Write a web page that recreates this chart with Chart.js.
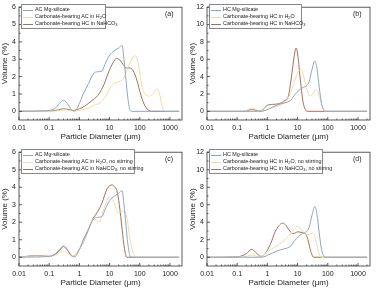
<!DOCTYPE html>
<html>
<head>
<meta charset="utf-8">
<script src="https://cdn.jsdelivr.net/npm/chart.js@4.4.1/dist/chart.umd.min.js"></script>
<style>
  html,body{margin:0;padding:0;background:#fff;}
  #wrap{position:relative;width:376px;height:291px;overflow:hidden;font-family:"Liberation Sans",Arial,sans-serif;}
  .panel{position:absolute;width:188px;}
  .panel canvas{position:absolute;left:0;top:0;}
  .lg{position:absolute;border:0.6px solid #888;background:#fff;padding:1px 2px 1px 1px;font-size:5.4px;color:#222;line-height:7px;white-space:nowrap;}
  .lg div{position:relative;padding-left:12px;height:7px;}
  .lg i{position:absolute;left:0;top:3.5px;width:10px;height:0;border-top:1px solid;}
  .lg sub{font-size:4px;line-height:0;vertical-align:-1px;}
  .tag{position:absolute;font-size:7px;color:#222;}
</style>
</head>
<body>
<div id="wrap">
  <div class="panel" id="pa" style="left:0;top:0;height:145px"><canvas id="ca" width="188" height="145"></canvas></div>
  <div class="panel" id="pb" style="left:188px;top:0;height:145px"><canvas id="cb" width="188" height="145"></canvas></div>
  <div class="panel" id="pc" style="left:0;top:145px;height:146px"><canvas id="cc" width="188" height="146"></canvas></div>
  <div class="panel" id="pd" style="left:188px;top:145px;height:146px"><canvas id="cd" width="188" height="146"></canvas></div>
</div>
<script>
// x ticks (µm) and y ticks
const X_TICKS = [0.01,0.1,1,10,100,1000];
const Y_TICKS_AC = [0,1,2,3,4,5,6];
const Y_TICKS_HC = [0,2,4,6,8,10,12];

// AC Mg-silicate (panels a, c)
const acMgX = [0.01,0.05,0.1,0.15,0.22,0.3,0.4,0.55,0.7,1,1.3,2,3,4,5.6,7,9,12,16,20,26,30,35,40,47,55,2000];
const acMgY = [0,0.02,0.05,0.15,0.45,0.64,0.45,0.1,0.02,0.45,0.95,1.6,2.2,2.28,2.32,2.7,3.1,3.38,3.55,3.65,3.8,3.0,1.8,0.8,0.1,0,0];
// HC Mg-silicate (panels b, d)
const hcMgX = [0.01,0.5,0.7,1,1.5,2.2,3,4.5,6,8,11,15,19,24,30,37,44,52,62,75,85,2000];
const hcMgY = [0,0,0.02,0.2,0.5,0.75,0.9,1.05,1.3,1.9,2.4,2.75,2.9,3.4,4.8,5.8,4.9,2.8,0.9,0.1,0,0];

// (a)
const aH2OX = [0.01,0.1,0.2,0.3,0.45,0.6,1,2,3,5,7,10,14,20,28,40,55,70,85,100,120,150,210,280,380,450,550,660,2000];
const aH2OY = [0,0,0.03,0.08,0.05,0.01,0.05,0.2,0.35,0.5,0.8,1.3,1.6,1.7,1.85,2.5,3.05,3.2,2.9,2.2,1.4,1.0,0.88,1.05,1.3,1.0,0.3,0,0];
const aNaX = [0.01,0.1,0.2,0.3,0.45,0.6,1,1.5,2.5,4,6,9,13,17,22,28,35,45,60,80,110,150,200,250,2000];
const aNaY = [0,0.02,0.08,0.15,0.1,0.05,0.15,0.3,0.6,0.9,1.4,2.2,2.8,3.05,2.95,2.7,2.5,2.5,2.35,1.8,0.9,0.3,0.05,0,0];

// (b)
const bH2OX = [0.01,0.15,0.22,0.3,0.4,0.55,0.8,1.2,2,3,4.5,6,8,10,12.5,15,19,24,28,34,40,48,58,70,80,2000];
const bH2OY = [0,0,0.15,0.4,0.25,0.03,0.1,0.3,0.55,0.8,1.3,2.2,3.5,4.4,4.8,4.4,2.8,1.9,1.8,2.2,2.5,2.2,1.2,0.3,0,0];
const bNaX = [0.01,0.15,0.3,0.45,0.6,0.8,1,1.5,2.2,3,4,5,6,7,8,9,10,11,12,13.5,15.3,17,19.5,22,2000];
const bNaY = [0,0,0.2,0.1,0.05,0.4,0.7,0.8,0.85,1.0,1.3,1.8,3.5,5.3,6.7,7.3,6.6,5.4,4.0,2.4,1.0,0.4,0.05,0,0];

// (c)
const cH2OX = [0.01,0.04,0.1,0.2,0.3,0.4,0.6,1,1.6,2.3,3,4.5,6,8,9.5,12,15,19,24,31,38,48,60,72,2000];
const cH2OY = [0,0.08,0.03,0.2,0.35,0.25,0.05,0.45,1.2,1.9,2.2,2.0,2.6,3.2,3.45,3.35,3.0,2.55,2.6,2.65,2.2,1.0,0.25,0,0];
const cNaX = [0.01,0.04,0.1,0.2,0.3,0.4,0.6,1,1.6,2.6,4,5.6,8.2,12,15,17.5,21,26,31,37,2000];
const cNaY = [0,0.1,0.05,0.3,0.62,0.4,0.05,0.45,1.15,2.1,2.6,3.1,3.9,4.13,4.0,3.8,3.0,1.6,0.5,0,0];

// (d)
const dH2OX = [0.01,0.1,0.2,0.3,0.4,0.6,1,1.6,2.5,3.5,5,6.5,8.5,10,12,15,19,24,31,38,46,55,62,2000];
const dH2OY = [0,0.02,0.1,0.25,0.15,0.05,0.6,1.1,1.5,1.9,2.4,2.9,3.35,3.5,3.35,3.0,2.6,2.6,2.75,2.3,1.0,0.2,0,0];
const dNaX = [0.01,0.1,0.2,0.3,0.4,0.6,0.8,1,1.3,1.8,2.4,3.2,4.2,5.5,7,8.5,10,13,16,19.5,22,25,29,34,2000];
const dNaY = [0,0.05,0.4,0.9,0.6,0.1,0.3,0.8,1.6,2.9,3.6,3.9,3.6,3.0,2.7,2.8,2.9,2.85,2.75,2.5,2.0,1.2,0.4,0,0];

const C_MG = '#8ca6c0', C_H2O = '#efdca8', C_NA = '#a96e55';
const FONT = '"Liberation Sans", Arial, sans-serif';
const pts = (xs, ys) => xs.map((x,i)=>({x, y:ys[i]}));

const FrameTicks = {
  id:'frameTicks',
  afterDraw(chart){
    const {left,right,top,bottom} = chart.chartArea;
    const ctx = chart.ctx, xs = chart.scales.x, ys = chart.scales.y;
    ctx.save();
    ctx.strokeStyle = '#333'; ctx.lineWidth = 0.8;
    ctx.strokeRect(left, top, right-left, bottom-top);
    ctx.beginPath();
    for(let d=-2; d<=3; d++){
      for(let k=1; k<=9; k++){
        const v = k*Math.pow(10,d); if(v>xs.max) break;
        const px = xs.getPixelForValue(v), len = k===1 ? 3 : 1.5;
        ctx.moveTo(px, bottom); ctx.lineTo(px, bottom-len);
      }
    }
    const yt = chart.options.scales.y.myTicks, step = yt[1]-yt[0];
    yt.forEach(v=>{
      const py = ys.getPixelForValue(v);
      ctx.moveTo(left, py); ctx.lineTo(left+3, py);
      const pm = ys.getPixelForValue(v+step/2);
      if(v+step/2 < ys.max){ ctx.moveTo(left, pm); ctx.lineTo(left+1.5, pm); }
    });
    const pm = ys.getPixelForValue(-step/2);
    ctx.stroke();
    ctx.restore();
  }
};

function makeChart(id, sets, yMin, yMax, yTicks, padTop){
  const ds = sets.map(([xs,ys,col])=>({data:pts(xs,ys), borderColor:col, borderWidth:1, pointRadius:0, cubicInterpolationMode:'monotone', fill:false}));
  return new Chart(document.getElementById(id), {
    type:'line',
    data:{datasets:ds},
    options:{
      responsive:false, animation:false, events:[],
      layout:{padding:{top:padTop, right:6, left:0, bottom:0}},
      plugins:{legend:{display:false}, tooltip:{enabled:false}},
      scales:{
        x:{type:'logarithmic', min:0.01, max:2500,
          grid:{display:false, drawTicks:false}, border:{display:false},
          afterBuildTicks:s=>{ s.ticks = X_TICKS.map(v=>({value:v})); },
          afterFit:s=>{ s.height = 25; },
          ticks:{autoSkip:false, maxRotation:0, padding:4, color:'#222', font:{family:FONT, size:7}, callback:v=>String(v)},
          title:{display:true, text:'Particle Diameter (μm)', color:'#222', font:{family:FONT, size:8}, padding:{top:0, bottom:3}}},
        y:{min:yMin, max:yMax, myTicks:yTicks,
          grid:{display:false, drawTicks:false}, border:{display:false},
          afterBuildTicks:s=>{ s.ticks = yTicks.map(v=>({value:v})); },
          afterFit:s=>{ s.width = 19; },
          ticks:{padding:3, color:'#222', font:{family:FONT, size:7}},
          title:{display:true, text:'Volume (%)', color:'#222', font:{family:FONT, size:8}, padding:{top:0, bottom:0}}}
      }
    },
    plugins:[FrameTicks]
  });
}

function legend(panel, items, tag, width){
  const p = document.getElementById(panel);
  const lg = document.createElement('div');
  lg.className = 'lg'; lg.style.left = '21px'; lg.style.top = '4px'; lg.style.width = width+'px';
  lg.innerHTML = items.map(([c,t])=>`<div><i style="border-color:${c}"></i>${t}</div>`).join('');
  p.appendChild(lg);
  const tg = document.createElement('div');
  tg.className = 'tag'; tg.style.left = '165px'; tg.style.top = '10px'; tg.textContent = tag;
  p.appendChild(tg);
}

makeChart('ca', [[acMgX,acMgY,C_MG],[aH2OX,aH2OY,C_H2O],[aNaX,aNaY,C_NA]], -0.5, 6, Y_TICKS_AC, 4);
makeChart('cb', [[hcMgX,hcMgY,C_MG],[bH2OX,bH2OY,C_H2O],[bNaX,bNaY,C_NA]], -1, 12, Y_TICKS_HC, 4);
makeChart('cc', [[acMgX,acMgY,C_MG],[cH2OX,cH2OY,C_H2O],[cNaX,cNaY,C_NA]], -0.5, 6, Y_TICKS_AC, 3);
makeChart('cd', [[hcMgX,hcMgY,C_MG],[dH2OX,dH2OY,C_H2O],[dNaX,dNaY,C_NA]], -1, 12, Y_TICKS_HC, 3);

legend('pa', [[C_MG,'AC Mg-silicate'],[C_H2O,'Carbonate-bearing AC in H<sub>2</sub>O'],[C_NA,'Carbonate-bearing HC in NaHCO<sub>3</sub>']], '(a)', 80);
legend('pb', [[C_MG,'HC Mg-silicate'],[C_H2O,'Carbonate-bearing HC in H<sub>2</sub>O'],[C_NA,'Carbonate-bearing HC in NaHCO<sub>3</sub>']], '(b)', 88);
legend('pc', [[C_MG,'AC Mg-silicate'],[C_H2O,'Carbonate-bearing AC in H<sub>2</sub>O, no stirring'],[C_NA,'Carbonate-bearing AC in NaHCO<sub>3</sub>, no stirring']], '(c)', 109);
legend('pd', [[C_MG,'HC Mg-silicate'],[C_H2O,'Carbonate-bearing HC in H<sub>2</sub>O, no stirring'],[C_NA,'Carbonate-bearing HC in NaHCO<sub>3</sub>, no stirring']], '(d)', 109);
</script>
</body>
</html>
